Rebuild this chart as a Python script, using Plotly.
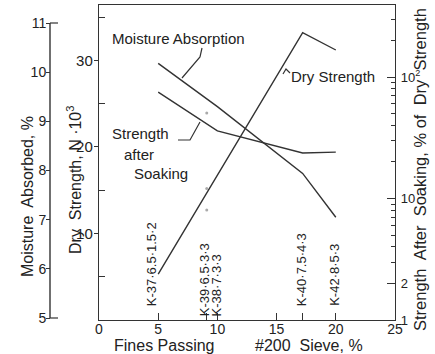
import plotly.graph_objects as go

# ---------------- data ----------------
fines_dry = [5, 10, 17.2, 20]
dry_strength = [5.3, 16.8, 33.2, 31.2]          # N x 10^3 (left inner axis)

fines_moist = [5, 10, 17.2, 20]
moisture = [10.18, 9.3, 7.94, 7.05]              # % (left outer axis)

fines_soak = [5, 10, 17.2, 20]
soak_strength = [75, 36, 23.7, 24.1]             # % of dry strength (right log axis)

extra_fines_dry = [9.1, 9.1]
extra_dry = [15.2, 12.7]
extra_fines_soak = [9.1]
extra_soak = [50.6]

sample_fines = [5, 9.1, 10, 17.2, 20]
sample_labels = ["K-37·6.5·1.5·2", "K-39·6.5·3·3", "K-38·7·3·3", "K-40·7.5·4·3", "K-42·8·5·3"]

x_ticks = [0, 5, 10, 15, 20, 25]
dry_ticks = [10, 20, 30]
moist_ticks = [5, 6, 7, 8, 9, 10, 11]
soak_ticks = [1, 2, 10, 100]
soak_ticktext = ["1", "2", "10", "10<sup>2</sup>"]

# ---------------- layout helpers ----------------
W, H = 435, 354
def px(x):
    return x / W
def py(y):
    return 1 - y / H

LC = "#333333"
TC = "#222222"
FONT = "Liberation Sans, Arial, sans-serif"

fig = go.Figure()

fig.add_trace(go.Scatter(x=fines_dry, y=dry_strength, mode="lines",
                         line=dict(color=LC, width=1.4), yaxis="y", showlegend=False))
fig.add_trace(go.Scatter(x=extra_fines_dry, y=extra_dry, mode="markers",
                         marker=dict(color="#aaaaaa", size=3), yaxis="y", showlegend=False))
fig.add_trace(go.Scatter(x=fines_moist, y=moisture, mode="lines",
                         line=dict(color=LC, width=1.4), yaxis="y3", showlegend=False))
fig.add_trace(go.Scatter(x=fines_soak, y=soak_strength, mode="lines",
                         line=dict(color=LC, width=1.4), yaxis="y2", showlegend=False))
fig.add_trace(go.Scatter(x=extra_fines_soak, y=extra_soak, mode="markers",
                         marker=dict(color="#aaaaaa", size=3), yaxis="y2", showlegend=False))

xdom = [px(99), px(395)]
ydom = [py(320), py(5)]

# moisture axis range: 5 at y=318px, 11 at y=23px
m_per_px = 6 / (318 - 23)
m_lo = 5 - (320 - 318) * m_per_px
m_hi = 11 + (23 - 5) * m_per_px

fig.update_layout(
    template="none",
    width=W, height=H,
    margin=dict(l=0, r=0, t=0, b=0),
    paper_bgcolor="white", plot_bgcolor="white",
    font=dict(family=FONT, color=TC, size=14),
    xaxis=dict(domain=xdom, range=[0, 25], showgrid=False, zeroline=False,
               showline=True, linecolor=LC, linewidth=1.4, mirror=True,
               tickvals=x_ticks, ticks="inside", ticklen=7, tickcolor=LC, tickwidth=1.2,
               tickfont=dict(size=14), automargin=False, ticklabelstandoff=-4,
               minor=dict(tickvals=[9.1, 17.2], ticks="inside", ticklen=7, tickcolor=LC)),
    yaxis=dict(domain=ydom, range=[0, 36.4], showgrid=False, zeroline=False,
               showline=True, linecolor=LC, linewidth=1.4,
               tickvals=dry_ticks, ticks="outside", ticklen=4, tickcolor=LC, tickwidth=1.2,
               tickfont=dict(size=15), automargin=False, ticklabelstandoff=-2,
               minor=dict(tickvals=[5, 15, 25, 35], ticks="inside", ticklen=6, tickcolor=LC)),
    yaxis2=dict(type="log", range=[0, 315 / 121.5], overlaying="y", side="right", anchor="x",
                showgrid=False, zeroline=False, showline=True, linecolor=LC, linewidth=1.4,
                tickvals=soak_ticks, ticktext=soak_ticktext, ticks="inside", ticklen=8,
                tickcolor=LC, tickwidth=1.2, tickfont=dict(size=13), automargin=False,
                ticklabelstandoff=2,
                minor=dict(tickvals=[3, 4, 5, 6, 7, 8, 9, 20, 30, 40, 50, 60, 70, 80, 90, 200, 300],
                           ticks="inside", ticklen=4, tickcolor=LC)),
    yaxis3=dict(range=[m_lo, m_hi], overlaying="y", side="left", anchor="free",
                position=px(50), showgrid=False, zeroline=False, showline=False,
                tickvals=moist_ticks, ticks="outside", ticklen=4, tickcolor=LC, tickwidth=1.2,
                tickfont=dict(size=14), automargin=False, ticklabelstandoff=-3),
)

shapes = []
# moisture axis line with end hooks
shapes.append(dict(type="line", xref="paper", yref="y3", x0=px(50), x1=px(50), y0=5, y1=11,
                   line=dict(color=LC, width=1.4)))
shapes.append(dict(type="line", xref="paper", yref="y3", x0=px(50), x1=px(58), y0=11, y1=11,
                   line=dict(color=LC, width=1.2)))
shapes.append(dict(type="line", xref="paper", yref="y3", x0=px(50), x1=px(58), y0=5, y1=5,
                   line=dict(color=LC, width=1.2)))

def leader(points):
    d = "M " + " L ".join(f"{px(a):.5f},{py(b):.5f}" for a, b in points)
    return dict(type="path", xref="paper", yref="paper", path=d,
                line=dict(color=LC, width=1.2))

shapes.append(leader([(202, 48), (200, 57), (182, 78)]))
shapes.append(leader([(178, 140), (190, 140), (200, 122)]))
shapes.append(leader([(283, 74), (286, 69), (290, 73)]))
fig.update_layout(shapes=shapes)

ann = []
def text(t, x, y, size=15, angle=0, xa="left", ya="middle"):
    ann.append(dict(text=t, x=px(x), y=py(y), xref="paper", yref="paper", showarrow=False,
                    textangle=angle, xanchor=xa, yanchor=ya,
                    font=dict(size=size, family=FONT, color=TC)))

text("Moisture Absorption", 110, 38)
text("Dry Strength", 289, 77)
text("Strength", 110, 134)
text("after", 122, 154)
text("Soaking", 132, 173)

text("Moisture\u00a0 Absorbed, %", 27, 197, size=16, angle=-90, xa="center", ya="middle")
text("Dry\u00a0 Strength, N ·10<sup>3</sup>", 74, 180, size=16, angle=-90, xa="center", ya="middle")
text("Strength\u00a0 After\u00a0 Soaking, % of\u00a0 Dry\u00a0 Strength", 420, 170, size=16.5,
     angle=-90, xa="center", ya="middle")
text("Fines Passing", 164, 345, size=16, xa="center")
text("#200\u00a0 Sieve, %", 309, 345, size=16, xa="center")

label_shift = [-7, -2, -1, -1, -2]
label_bottom = [308, 318, 318, 308, 308]
for xv, lab, sh, yb in zip(sample_fines, sample_labels, label_shift, label_bottom):
    ann.append(dict(text=lab, x=xv, y=py(yb), xref="x", yref="paper", showarrow=False,
                    textangle=-90, xanchor="center", yanchor="bottom", xshift=sh,
                    font=dict(size=13, family=FONT, color=TC)))

fig.update_layout(annotations=ann)

fig.write_html("out.html", config={"displayModeBar": False},
               post_script="document.body.style.margin='0px';document.body.style.overflow='hidden';")
